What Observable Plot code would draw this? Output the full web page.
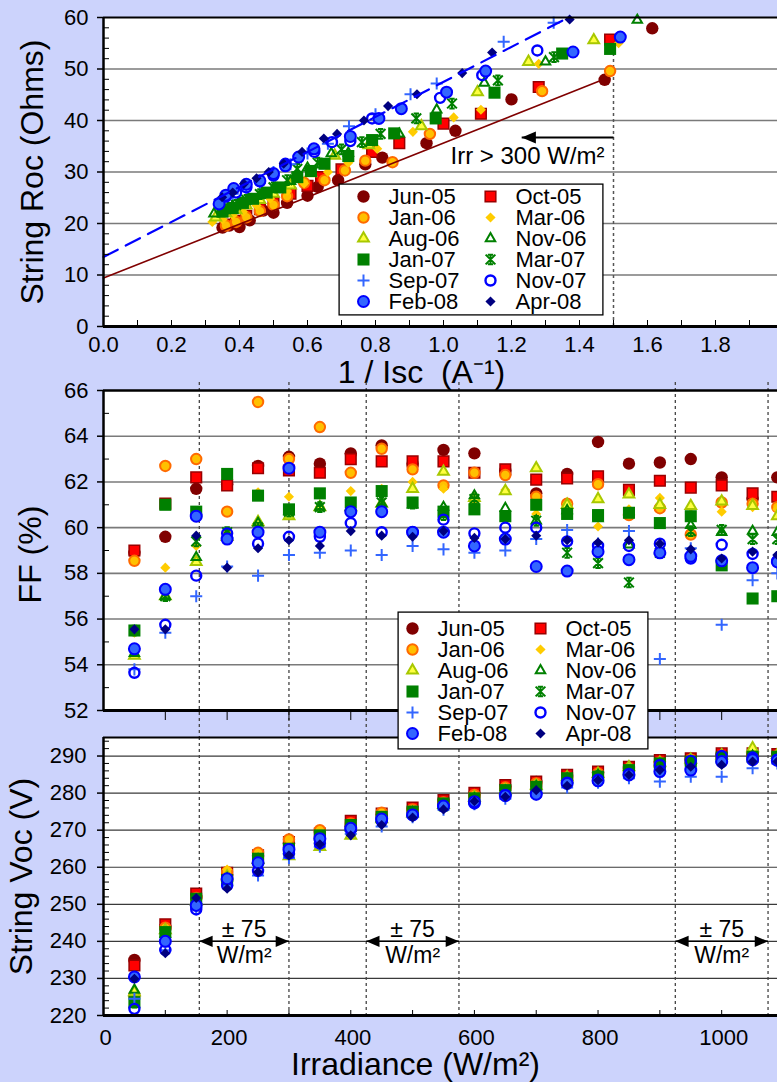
<!DOCTYPE html>
<html><head><meta charset="utf-8">
<script src="https://cdn.jsdelivr.net/npm/d3@7"></script>
<script src="https://cdn.jsdelivr.net/npm/@observablehq/plot@0.6"></script>
<style>
html,body{margin:0;padding:0;background:#ccd3fc;overflow:hidden;}
#wrap{position:relative;width:777px;height:1082px;overflow:hidden;background:#ccd3fc;}
</style></head><body><div id="wrap"></div>
<script>
// ---------------- DATA ----------------
const seriesNames = ["Jun-05","Oct-05","Jan-06","Mar-06","Aug-06","Nov-06","Jan-07","Mar-07","Sep-07","Nov-07","Feb-08","Apr-08"];

// Panel 1: [1/Isc (A^-1), String Roc (Ohms)]
const roc_Jun05 = [[0.35,19.2],[0.37,19.6],[0.40,19.3],[0.43,20.6],[0.47,22.5],[0.50,22.1],[0.54,24.0],[0.60,25.4],[0.63,27.1],[0.69,28.4],[0.77,31.5],[0.82,32.8],[0.95,35.6],[1.035,38.0],[1.20,44.1],[1.474,47.9],[1.614,57.9]];
const roc_Oct05 = [[0.36,19.8],[0.39,20.5],[0.42,21.5],[0.46,22.8],[0.50,24.0],[0.55,25.8],[0.60,27.3],[0.64,29.0],[0.70,30.5],[0.79,33.9],[0.87,35.6],[1.00,39.4],[1.11,41.3],[1.28,46.5],[1.49,55.7]];
const roc_Jan06 = [[0.36,19.6],[0.39,20.3],[0.42,21.2],[0.46,22.4],[0.50,23.6],[0.54,25.3],[0.59,27.9],[0.65,28.4],[0.71,30.3],[0.77,32.2],[0.85,31.9],[0.96,37.4],[1.29,45.7],[1.49,49.6]];
const roc_Mar06 = [[0.32,20.3],[0.35,20.8],[0.38,21.6],[0.41,22.3],[0.45,23.5],[0.49,24.8],[0.54,26.3],[0.59,27.8],[0.66,30.0],[0.72,31.8],[0.805,34.5],[0.91,37.8],[1.03,40.6],[1.11,42.1],[1.28,51.0],[1.515,55.0]];
const roc_Aug06 = [[0.33,21.2],[0.36,22.0],[0.39,22.6],[0.42,23.5],[0.46,24.6],[0.50,25.8],[0.55,27.4],[0.61,29.8],[0.68,33.2],[0.78,35.2],[0.935,38.9],[1.10,45.5],[1.25,51.4],[1.442,55.6]];
const roc_Nov06 = [[0.325,21.9],[0.35,22.6],[0.38,23.4],[0.42,24.4],[0.46,25.5],[0.50,26.8],[0.55,28.2],[0.60,30.8],[0.67,33.6],[0.72,33.7],[0.87,37.4],[0.98,42.1],[1.12,47.3],[1.30,51.4],[1.57,59.5]];
const roc_Jan07 = [[0.35,22.3],[0.38,23.0],[0.41,24.0],[0.44,24.8],[0.48,26.0],[0.52,27.0],[0.57,29.0],[0.61,30.2],[0.65,31.6],[0.72,33.1],[0.79,36.2],[0.855,37.5],[0.977,40.4],[1.15,45.4],[1.349,53.0],[1.49,53.9]];
const roc_Mar07 = [[0.36,22.8],[0.39,23.6],[0.42,24.6],[0.46,25.7],[0.50,27.0],[0.54,28.4],[0.57,30.6],[0.63,31.8],[0.70,34.4],[0.76,35.8],[0.815,37.4],[0.92,40.4],[1.025,43.3],[1.16,47.8],[1.325,52.3]];
const roc_Sep07 = [[0.35,24.5],[0.38,25.8],[0.42,27.0],[0.46,28.0],[0.50,30.0],[0.55,31.5],[0.60,33.6],[0.66,35.5],[0.722,38.9],[0.80,41.2],[0.903,45.1],[0.98,47.2],[1.177,55.3],[1.324,59.0]];
const roc_Nov07 = [[0.36,25.2],[0.39,26.0],[0.42,27.0],[0.46,28.2],[0.50,29.3],[0.535,31.6],[0.62,33.9],[0.672,35.8],[0.726,36.0],[0.79,40.4],[0.99,44.4],[1.114,48.8],[1.276,53.6]];
const roc_Feb08 = [[0.34,23.8],[0.36,25.5],[0.383,26.8],[0.42,27.6],[0.46,28.3],[0.50,29.7],[0.535,31.2],[0.574,32.9],[0.619,34.5],[0.726,36.9],[0.81,40.4],[0.876,42.3],[1.009,45.5],[1.124,49.6],[1.381,53.3],[1.52,56.2]];
const roc_Apr08 = [[0.349,25.1],[0.38,26.0],[0.413,27.7],[0.45,28.8],[0.486,30.0],[0.53,31.6],[0.584,33.9],[0.648,36.5],[0.687,37.4],[0.766,40.0],[0.837,42.8],[0.922,45.1],[1.055,49.2],[1.143,53.2],[1.371,59.6]];

// trend lines (endpoints, [1/Isc, Roc])
const fitLow  = [[0, 9.4], [1.457, 47.6]];
const fitHigh = [[0, 13.5], [1.353, 59.5]];
const irrLimit = [{x: 1.5, y1: 0, y2: 55}];
const irrArrow = [{from: 1.5, to: 1.23, roc: 36.7}];

// Panels 2 & 3: irradiance bins (W/m2)
const irradiance = [50,100,150,200,250,300,350,400,450,500,550,600,650,700,750,800,850,900,950,1000,1050,1090];

const ff_Jun05 = [58.9,59.6,61.7,61.9,62.7,63.1,62.8,63.25,63.6,62.8,63.4,63.25,62.5,61.5,62.35,63.75,62.8,62.85,63.0,62.2,61.25,62.2];
const ff_Oct05 = [59.0,61.05,62.2,61.85,62.6,62.5,62.4,63.0,62.9,62.9,62.9,62.4,62.55,62.1,62.15,62.25,61.65,62.05,61.75,61.85,61.5,61.35];
const ff_Jan06 = [58.55,62.7,63.0,60.7,65.5,63.0,64.4,62.4,63.45,62.55,61.85,62.4,62.3,61.35,61.05,61.9,60.55,60.85,59.7,61.1,61.05,60.9];
const ff_Mar06 = [55.4,58.25,59.2,59.8,61.55,61.35,60.9,61.6,61.7,62.0,61.7,61.1,61.65,60.6,61.05,60.05,60.8,61.3,60.6,60.7,60.9,60.8];
const ff_Aug06 = [54.4,57.0,58.5,59.6,60.25,60.5,60.9,60.9,61.05,61.7,62.45,61.3,61.6,62.6,61.0,61.25,61.45,61.0,60.95,61.15,60.95,60.5];
const ff_Nov06 = [54.5,57.0,58.7,59.7,60.2,60.7,60.9,60.9,61.05,61.0,60.9,61.4,60.85,60.3,60.75,60.4,59.25,59.0,60.1,59.8,59.85,59.8];
const ff_Jan07 = [55.5,61.0,60.7,62.35,61.4,60.8,61.5,61.1,61.6,61.1,60.7,60.8,60.5,61.0,60.6,60.55,60.65,60.2,60.5,58.35,56.9,57.0];
const ff_Mar07 = [55.5,57.0,59.4,59.8,60.0,60.7,60.9,60.9,61.1,61.05,60.55,61.25,60.5,60.3,58.9,58.45,57.6,58.9,59.85,59.9,59.5,59.5];
const ff_Sep07 = [53.8,55.4,57.0,58.3,57.9,58.8,58.9,59.0,58.8,59.2,59.05,58.9,59.0,59.5,59.9,59.3,59.85,54.25,59.1,55.75,57.7,58.0];
const ff_Nov07 = [53.65,55.75,57.9,59.75,59.3,59.6,59.6,60.2,59.8,59.8,60.35,59.75,60.0,60.0,59.4,59.2,59.2,59.3,58.65,59.25,58.85,58.55];
const ff_Feb08 = [54.7,57.3,60.5,59.5,59.8,62.6,59.8,60.7,60.7,59.8,59.8,59.2,59.5,58.3,58.1,58.95,58.6,58.9,58.75,58.55,58.25,58.5];
const ff_Apr08 = [55.55,55.55,59.65,58.25,59.1,59.45,59.2,59.85,59.65,59.6,59.85,59.55,59.5,59.65,59.45,59.35,59.45,59.3,59.05,58.65,58.95,58.8];

const voc_Jun05 = [235.0,243.9,252.0,258.0,263.0,266.5,269.5,271.0,274.2,275.8,277.8,279.8,281.8,283.0,284.6,285.6,286.8,288.5,289.2,290.3,290.5,290.3];
const voc_Oct05 = [233.5,244.6,252.9,258.5,263.2,266.8,269.1,272.5,274.5,276.1,278.1,280.1,282.2,283.1,284.9,285.8,287.1,288.9,289.4,290.7,290.7,290.5];
const voc_Jan06 = [225.4,243.7,251.7,258.7,263.9,267.5,270.0,271.8,274.7,275.6,277.5,279.5,281.5,282.6,284.2,285.3,286.6,288.3,289.0,290.0,290.2,290.0];
const voc_Mar06 = [225.4,243.5,251.2,259.4,263.0,266.0,268.5,271.0,273.8,275.2,277.0,279.0,281.0,282.3,284.0,285.0,286.5,288.0,288.8,289.8,290.5,290.0];
const voc_Aug06 = [226.3,243.0,250.8,257.5,262.0,263.0,265.5,268.5,273.0,274.5,276.8,278.8,280.7,282.0,284.3,285.2,287.0,288.2,289.0,290.2,292.1,290.3];
const voc_Nov06 = [226.9,242.0,251.0,257.0,262.0,264.5,267.5,270.5,273.2,274.8,276.8,278.5,280.5,281.8,283.8,284.8,286.0,287.8,288.5,289.5,290.0,289.5];
const voc_Jan07 = [223.6,242.5,251.5,256.5,262.3,265.0,268.6,271.4,273.6,275.0,277.2,278.6,280.8,281.7,284.0,284.4,286.2,288.0,288.5,289.6,289.8,289.8];
const voc_Mar07 = [223.5,241.5,250.5,256.8,261.5,264.0,267.0,270.0,273.0,274.5,276.5,278.2,280.2,281.5,283.5,284.6,286.0,287.5,288.3,289.3,289.8,289.5];
const voc_Sep07 = [224.5,237.6,249.0,255.0,257.8,262.5,265.5,269.0,271.0,273.5,275.5,277.0,278.5,280.0,281.5,282.8,284.0,283.1,284.4,284.4,286.7,288.0];
const voc_Nov07 = [221.8,237.7,248.6,255.1,259.0,263.7,266.4,270.2,272.5,274.1,276.5,277.2,279.5,279.7,282.8,283.6,285.2,287.6,288.7,290.0,289.6,289.0];
const voc_Feb08 = [230.4,240.0,249.7,256.9,261.2,264.8,267.7,270.5,273.0,274.1,276.5,277.7,279.3,279.7,282.6,283.3,284.9,285.8,286.2,288.5,289.0,288.8];
const voc_Apr08 = [229.9,236.8,251.7,254.2,258.7,263.2,266.2,268.6,271.4,273.4,275.6,277.8,279.0,280.8,282.0,283.5,284.9,286.2,287.1,287.6,288.5,288.5];

// ±75 W/m2 windows around 225, 500, 1000 W/m2
const bands = [{a:155,b:300,v:240},{a:425,b:575,v:240},{a:925,b:1075,v:240}];
const bandEdges = [155,300,425,575,925,1075];

// ticks
const rocTicks = [0,10,20,30,40,50,60];
const invIscTicks = [0,0.2,0.4,0.6,0.8,1.0,1.2,1.4,1.6,1.8];
const ffTicks = [52,54,56,58,60,62,64,66];
const vocTicks = [220,230,240,250,260,270,280,290];
const irrTicks = [0,200,400,600,800,1000];

// ---------------- STYLES ----------------
const FONT = 'Arial, "Liberation Sans", Helvetica, sans-serif';
const diamondSym = {draw(c,size){const h=Math.sqrt(size)*0.62;c.moveTo(0,-h);c.lineTo(h,0);c.lineTo(0,h);c.lineTo(-h,0);c.closePath();}};
const plusSym = {draw(c,size){const h=Math.sqrt(size)*0.85;c.moveTo(-h,0);c.lineTo(h,0);c.moveTo(0,-h);c.lineTo(0,h);}};
const starSym = {draw(c,size){const h=Math.sqrt(size)*0.55;const k=h*0.55;
  c.moveTo(-h,-h);c.lineTo(h,h);c.moveTo(-h,h);c.lineTo(h,-h);
  c.moveTo(0,-h);c.lineTo(0,h);
  c.moveTo(-k,-h);c.lineTo(k,-h);c.moveTo(-k,h);c.lineTo(k,h);}};
const leftHead = {draw(c,size){const L=Math.sqrt(size);c.moveTo(0,0);c.lineTo(L,-L*0.42);c.lineTo(L,L*0.42);c.closePath();}};
const rightHead = {draw(c,size){const L=Math.sqrt(size);c.moveTo(0,0);c.lineTo(-L,-L*0.42);c.lineTo(-L,L*0.42);c.closePath();}};

const ST = {
  "Jun-05": {symbol:"circle", r:6.2, fill:"#800000", stroke:"none", sw:0},
  "Oct-05": {symbol:"square", r:6.0, fill:"#ff0000", stroke:"#990000", sw:1.5},
  "Jan-06": {symbol:"circle", r:5.2, fill:"#ffc000", stroke:"#ff6a00", sw:2},
  "Mar-06": {symbol:diamondSym, r:4.6, fill:"#ffcc00", stroke:"none", sw:0},
  "Aug-06": {symbol:"triangle", r:4.0, fill:"#ffff40", stroke:"#a8c800", sw:2},
  "Nov-06": {symbol:"triangle", r:3.5, fill:"none", stroke:"#008000", sw:2},
  "Jan-07": {symbol:"square", r:6.8, fill:"#008000", stroke:"none", sw:0},
  "Mar-07": {symbol:starSym, r:5, fill:"none", stroke:"#008000", sw:2},
  "Sep-07": {symbol:plusSym, r:4, fill:"none", stroke:"#3366ff", sw:2},
  "Nov-07": {symbol:"circle", r:5, fill:"none", stroke:"#0000ff", sw:2.4},
  "Feb-08": {symbol:"circle", r:5.5, fill:"#3366ff", stroke:"#0000ff", sw:2},
  "Apr-08": {symbol:diamondSym, r:4.6, fill:"#000080", stroke:"none", sw:0}
};

// ---------------- TABLES ----------------
const rocData = {"Jun-05":roc_Jun05,"Oct-05":roc_Oct05,"Jan-06":roc_Jan06,"Mar-06":roc_Mar06,"Aug-06":roc_Aug06,"Nov-06":roc_Nov06,"Jan-07":roc_Jan07,"Mar-07":roc_Mar07,"Sep-07":roc_Sep07,"Nov-07":roc_Nov07,"Feb-08":roc_Feb08,"Apr-08":roc_Apr08};
const ffData = {"Jun-05":ff_Jun05,"Oct-05":ff_Oct05,"Jan-06":ff_Jan06,"Mar-06":ff_Mar06,"Aug-06":ff_Aug06,"Nov-06":ff_Nov06,"Jan-07":ff_Jan07,"Mar-07":ff_Mar07,"Sep-07":ff_Sep07,"Nov-07":ff_Nov07,"Feb-08":ff_Feb08,"Apr-08":ff_Apr08};
const vocData = {"Jun-05":voc_Jun05,"Oct-05":voc_Oct05,"Jan-06":voc_Jan06,"Mar-06":voc_Mar06,"Aug-06":voc_Aug06,"Nov-06":voc_Nov06,"Jan-07":voc_Jan07,"Mar-07":voc_Mar07,"Sep-07":voc_Sep07,"Nov-07":voc_Nov07,"Feb-08":voc_Feb08,"Apr-08":voc_Apr08};

const rocRows = seriesNames.flatMap(s => rocData[s].map(([inv, roc]) => ({s, inv, roc})));
const irrRows = seriesNames.flatMap(s => irradiance.map((irr, i) => ({s, irr, ff: ffData[s][i], voc: vocData[s][i]})));

function seriesDots(rows, xKey, yKey){
  return seriesNames.map(s => Plot.dot(rows.filter(d => d.s === s), {
    x: xKey, y: yKey, symbol: ST[s].symbol, r: ST[s].r,
    fill: ST[s].fill, stroke: ST[s].stroke, strokeWidth: ST[s].sw
  }));
}

const wrap = document.getElementById("wrap");
function place(el, left, top){
  Object.assign(el.style, {position:"absolute", left:left+"px", top:top+"px", background:"none",
    overflow:"visible", maxWidth:"none", fontFamily: FONT});
  wrap.appendChild(el);
}

const W = 800;
const TICK_FS = 22, TITLE_FS = 32;
const minorOf = (lo, hi, step, major) => d3.range(lo, hi + 1e-9, step).filter(v => Math.abs(v/major - Math.round(v/major)) > 1e-6);

// ---------------- PANEL 1 ----------------
const p1H = 390, p1MT = 17, p1MB = 64;
const p1 = Plot.plot({
  width: W, height: p1H, marginLeft: 103, marginRight: 17, marginTop: p1MT, marginBottom: p1MB,
  x: {domain: [0, 2], axis: null}, y: {domain: [0, 60], axis: null},
  marks: [
    Plot.frame({fill: "white", stroke: "none"}),
    Plot.ruleY(rocTicks.filter(v => v > 0 && v < 60), {y: d => d, stroke: "#7a7a7a", strokeWidth: 1.6}),
    Plot.ruleX(irrLimit, {x: "x", y1: "y1", y2: "y2", stroke: "#555", strokeWidth: 1.5, strokeDasharray: "3,3"}),
    ...seriesDots(rocRows, "inv", "roc"),
    Plot.line(fitLow, {x: d => d[0], y: d => d[1], stroke: "#800000", strokeWidth: 1.6}),
    Plot.line(fitHigh, {x: d => d[0], y: d => d[1], stroke: "#0000ff", strokeWidth: 2.2, strokeDasharray: "16,9"}),
    // arrow
    Plot.link(irrArrow, {x1: "from", x2: "to", y1: "roc", y2: "roc", stroke: "black", strokeWidth: 2.2}),
    Plot.dot(irrArrow, {x: "to", y: "roc", symbol: leftHead, r: 8, fill: "black", stroke: "none"}),
    Plot.text(irrArrow, {x: "from", y: "roc", text: () => "Irr > 300 W/m²", textAnchor: "end", lineAnchor: "middle", dx: -9, dy: 19, fontSize: 24, fill: "black"}),
    // axis lines
    Plot.ruleY([60], {y: d => d, stroke: "black", strokeWidth: 2.2}),
    Plot.ruleX([0], {x: d => d, stroke: "black", strokeWidth: 2.5}),
    Plot.ruleY([0], {y: d => d, stroke: "black", strokeWidth: 3}),
    // ticks
    Plot.tickY(rocTicks, {y: d => d, insetLeft: -6, insetRight: 680, stroke: "black", strokeWidth: 1.5}),
    Plot.tickY(minorOf(2, 58, 2, 10), {y: d => d, insetLeft: 0, insetRight: 674, stroke: "black", strokeWidth: 1}),
    Plot.tickX(minorOf(0.1, 1.9, 0.1, 10), {x: d => d, insetTop: p1H - p1MT - p1MB - 6, stroke: "black", strokeWidth: 1}),
    Plot.tickX(invIscTicks.filter(v => v > 0), {x: d => d, insetTop: p1H - p1MT - p1MB - 6, stroke: "black", strokeWidth: 1}),
    // tick labels
    Plot.text(rocTicks, {y: d => d, frameAnchor: "left", dx: -15, textAnchor: "end", lineAnchor: "middle", text: d => String(d), fontSize: TICK_FS, fill: "black"}),
    Plot.text(invIscTicks, {x: d => d, frameAnchor: "bottom", dy: 10, textAnchor: "middle", lineAnchor: "top", text: d => d.toFixed(1), fontSize: TICK_FS, fill: "black"}),
    // titles
    Plot.text(["String Roc (Ohms)"], {frameAnchor: "left", dx: -71, rotate: -90, textAnchor: "middle", lineAnchor: "middle", text: d => d, fontSize: TITLE_FS, fill: "black"}),
    Plot.text(["1 / Isc  (A⁻¹)"], {frameAnchor: "bottom", dx: -22, dy: 46, textAnchor: "middle", lineAnchor: "middle", text: d => d, fontSize: TITLE_FS, fill: "black"})
  ]
});
place(p1, 0, 0);

// ---------------- PANEL 2 ----------------
const p2H = 362, p2MT = 15, p2MB = 27;
const p2 = Plot.plot({
  width: W, height: p2H, marginLeft: 103, marginRight: 17, marginTop: p2MT, marginBottom: p2MB,
  x: {domain: [0, 1100], axis: null}, y: {domain: [52, 66], axis: null},
  marks: [
    Plot.frame({fill: "white", stroke: "none"}),
    Plot.ruleY(ffTicks.filter(v => v > 52 && v < 66), {y: d => d, stroke: "#7a7a7a", strokeWidth: 1.6}),
    Plot.ruleX(bandEdges, {x: d => d, stroke: "#444", strokeWidth: 1.3, strokeDasharray: "3,3", insetTop: -8, insetBottom: -27}),
    ...seriesDots(irrRows, "irr", "ff"),
    Plot.ruleY([66], {y: d => d, stroke: "black", strokeWidth: 2.5}),
    Plot.ruleX([0], {x: d => d, stroke: "black", strokeWidth: 2.5}),
    Plot.ruleY([52], {y: d => d, stroke: "black", strokeWidth: 3}),
    Plot.tickY(ffTicks, {y: d => d, insetLeft: -6, insetRight: 680, stroke: "black", strokeWidth: 1.5}),
    Plot.tickY(minorOf(53, 65, 2, 2), {y: d => d, insetLeft: 0, insetRight: 674, stroke: "black", strokeWidth: 1}),
    Plot.tickX(d3.range(100, 1101, 100), {x: d => d, insetTop: p2H - p2MT - p2MB, insetBottom: -10, stroke: "black", strokeWidth: 1}),
    Plot.text(ffTicks, {y: d => d, frameAnchor: "left", dx: -15, textAnchor: "end", lineAnchor: "middle", text: d => String(d), fontSize: TICK_FS, fill: "black"}),
    Plot.text(["FF (%)"], {frameAnchor: "left", dx: -73, dy: 4, rotate: -90, textAnchor: "middle", lineAnchor: "middle", text: d => d, fontSize: TITLE_FS, fill: "black"})
  ]
});
place(p2, 0, 375);

// ---------------- PANEL 3 ----------------
const p3H = 355, p3MT = 10, p3MB = 67;
const p3 = Plot.plot({
  width: W, height: p3H, marginLeft: 103, marginRight: 17, marginTop: p3MT, marginBottom: p3MB,
  x: {domain: [0, 1100], axis: null}, y: {domain: [220, 295], axis: null},
  marks: [
    Plot.frame({fill: "white", stroke: "none"}),
    Plot.ruleY(vocTicks.filter(v => v > 220), {y: d => d, stroke: "#3a3a3a", strokeWidth: 1.2}),
    Plot.ruleX(bandEdges, {x: d => d, stroke: "#444", strokeWidth: 1.3, strokeDasharray: "3,3"}),
    Plot.link(bands, {x1: "a", x2: "b", y1: "v", y2: "v", stroke: "black", strokeWidth: 1.5}),
    Plot.dot(bands, {x: "a", y: "v", symbol: leftHead, r: 7.5, fill: "black", stroke: "none"}),
    Plot.dot(bands, {x: "b", y: "v", symbol: rightHead, r: 7.5, fill: "black", stroke: "none"}),
    Plot.text(bands, {x: d => (d.a + d.b) / 2, y: "v", text: () => "± 75", textAnchor: "middle", lineAnchor: "middle", dy: -12, fontSize: 23, fill: "black"}),
    Plot.text(bands, {x: d => (d.a + d.b) / 2, y: "v", text: () => "W/m²", textAnchor: "middle", lineAnchor: "middle", dy: 14, fontSize: 23, fill: "black"}),
    ...seriesDots(irrRows, "irr", "voc"),
    Plot.ruleY([295], {y: d => d, stroke: "black", strokeWidth: 2.2}),
    Plot.ruleX([0], {x: d => d, stroke: "black", strokeWidth: 2.5}),
    Plot.ruleY([220], {y: d => d, stroke: "black", strokeWidth: 3}),
    Plot.tickY(vocTicks, {y: d => d, insetLeft: -6, insetRight: 680, stroke: "black", strokeWidth: 1.5}),
    Plot.tickY(minorOf(222, 294, 2, 10), {y: d => d, insetLeft: 0, insetRight: 674, stroke: "black", strokeWidth: 1}),
    Plot.tickX(d3.range(100, 1101, 100), {x: d => d, insetTop: p3H - p3MT - p3MB - 5, stroke: "black", strokeWidth: 1}),
    Plot.text(vocTicks, {y: d => d, frameAnchor: "left", dx: -17, textAnchor: "end", lineAnchor: "middle", text: d => String(d), fontSize: TICK_FS, fill: "black"}),
    Plot.text(irrTicks, {x: d => d, frameAnchor: "bottom", dx: 2, dy: 14, textAnchor: "middle", lineAnchor: "top", text: d => String(d), fontSize: TICK_FS, fill: "black"}),
    Plot.text(["String Voc (V)"], {frameAnchor: "left", dx: -82, rotate: -90, textAnchor: "middle", lineAnchor: "middle", text: d => d, fontSize: TITLE_FS, fill: "black"}),
    Plot.text(["Irradiance (W/m²)"], {frameAnchor: "bottom", dx: -28, dy: 49, textAnchor: "middle", lineAnchor: "middle", text: d => d, fontSize: TITLE_FS, fill: "black"})
  ]
});
place(p3, 0, 727);

// ---------------- LEGENDS ----------------
const legendItems = seriesNames.map((s, i) => ({s, col: i % 2, row: Math.floor(i / 2)}));
function legend(w, h, xr, yr, dx){
  return Plot.plot({
    width: w, height: h, marginLeft: 0, marginRight: 0, marginTop: 0, marginBottom: 0,
    x: {type: "point", domain: [0, 1], range: xr, padding: 0, axis: null},
    y: {type: "point", domain: [0, 1, 2, 3, 4, 5], range: yr, padding: 0, axis: null},
    marks: [
      Plot.frame({fill: "white", stroke: "black", strokeWidth: 1.3, inset: 0.6}),
      ...legendItems.map(d => Plot.dot([d], {x: "col", y: "row", symbol: ST[d.s].symbol, r: ST[d.s].r,
        fill: ST[d.s].fill, stroke: ST[d.s].stroke, strokeWidth: ST[d.s].sw})),
      Plot.text(legendItems, {x: "col", y: "row", text: "s", dx, textAnchor: "start", lineAnchor: "middle", fontSize: 22, fill: "black"})
    ]
  });
}
place(legend(265, 132, [25, 152], [12, 119], 25), 338, 183);
place(legend(251, 138, [15, 143], [15.7, 124], 25), 397, 611);
</script></body></html>
